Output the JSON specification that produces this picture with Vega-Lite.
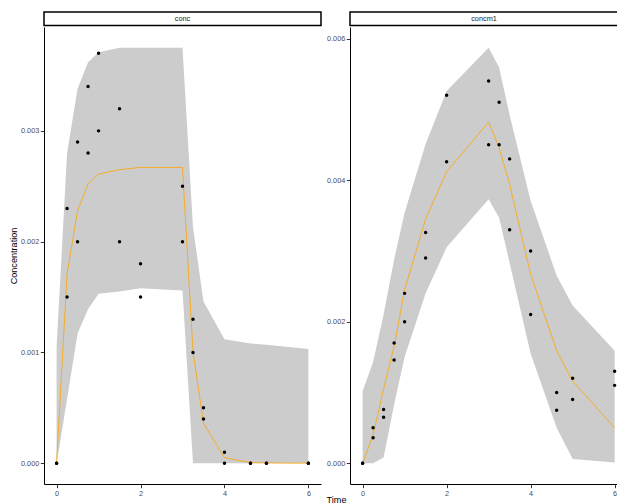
{
  "$schema": "https://vega.github.io/schema/vega-lite/v6.json",
  "padding": {"left": 9, "top": 11, "right": 0, "bottom": 0},
  "background": "white",
  "config": {
    "view": {"stroke": null},
    "axis": {
      "grid": false,
      "domainColor": "#000000",
      "domainWidth": 1,
      "tickColor": "#333333",
      "tickSize": 3.7,
      "tickWidth": 1,
      "labelColor": "#4d4d4d",
      "labelFont": "Liberation Sans",
      "labelFontSize": 7.3,
      "labelPadding": 1.5,
      "titleFont": "Liberation Sans",
      "titleFontSize": 9.1,
      "titleFontWeight": "normal",
      "titleColor": "#000000"
    }
  },
  "datasets": {
    "pred": [
      {"panel": "conc", "time": 0, "med": 0, "lo": 0, "hi": 0.00105},
      {"panel": "conc", "time": 0.25, "med": 0.00171, "lo": 0.00058, "hi": 0.0028},
      {"panel": "conc", "time": 0.5, "med": 0.00228, "lo": 0.00117, "hi": 0.00338},
      {"panel": "conc", "time": 0.75, "med": 0.00252, "lo": 0.00139, "hi": 0.00362},
      {"panel": "conc", "time": 1, "med": 0.00261, "lo": 0.00153, "hi": 0.00371},
      {"panel": "conc", "time": 1.5, "med": 0.00265, "lo": 0.00155, "hi": 0.00375},
      {"panel": "conc", "time": 2, "med": 0.00267, "lo": 0.00158, "hi": 0.00375},
      {"panel": "conc", "time": 3, "med": 0.00267, "lo": 0.00156, "hi": 0.00375},
      {"panel": "conc", "time": 3.25, "med": 0.00101, "lo": 0, "hi": 0.00213},
      {"panel": "conc", "time": 3.5, "med": 0.00036, "lo": 0, "hi": 0.00146},
      {"panel": "conc", "time": 4, "med": 0.00005, "lo": 0, "hi": 0.00112},
      {"panel": "conc", "time": 4.62, "med": 0.000006, "lo": 0, "hi": 0.00108},
      {"panel": "conc", "time": 5, "med": 0.000003, "lo": 0, "hi": 0.00107},
      {"panel": "conc", "time": 6, "med": 0, "lo": 0, "hi": 0.00103},
      {"panel": "concm1", "time": 0, "med": 0, "lo": 0, "hi": 0.00102},
      {"panel": "concm1", "time": 0.25, "med": 0.0004, "lo": 0, "hi": 0.00143},
      {"panel": "concm1", "time": 0.5, "med": 0.00105, "lo": 0.00008, "hi": 0.0021},
      {"panel": "concm1", "time": 0.75, "med": 0.00165, "lo": 0.00083, "hi": 0.00288},
      {"panel": "concm1", "time": 1, "med": 0.00245, "lo": 0.0015, "hi": 0.00354},
      {"panel": "concm1", "time": 1.5, "med": 0.00345, "lo": 0.0024, "hi": 0.00451},
      {"panel": "concm1", "time": 2, "med": 0.00412, "lo": 0.00305, "hi": 0.00526},
      {"panel": "concm1", "time": 3, "med": 0.00482, "lo": 0.00373, "hi": 0.00587},
      {"panel": "concm1", "time": 3.25, "med": 0.00446, "lo": 0.00347, "hi": 0.00559},
      {"panel": "concm1", "time": 3.5, "med": 0.00394, "lo": 0.00283, "hi": 0.00492},
      {"panel": "concm1", "time": 4, "med": 0.00267, "lo": 0.00155, "hi": 0.00371},
      {"panel": "concm1", "time": 4.62, "med": 0.00159, "lo": 0.0005, "hi": 0.00265},
      {"panel": "concm1", "time": 5, "med": 0.00116, "lo": 0.00006, "hi": 0.00223},
      {"panel": "concm1", "time": 6, "med": 0.0005, "lo": 0.00001, "hi": 0.00159}
    ],
    "obs": [
      {"panel": "conc", "time": 0, "value": 0},
      {"panel": "conc", "time": 0, "value": 0},
      {"panel": "conc", "time": 0.25, "value": 0.0023},
      {"panel": "conc", "time": 0.25, "value": 0.0015},
      {"panel": "conc", "time": 0.5, "value": 0.0029},
      {"panel": "conc", "time": 0.5, "value": 0.002},
      {"panel": "conc", "time": 0.75, "value": 0.0034},
      {"panel": "conc", "time": 0.75, "value": 0.0028},
      {"panel": "conc", "time": 1, "value": 0.0037},
      {"panel": "conc", "time": 1, "value": 0.003},
      {"panel": "conc", "time": 1.5, "value": 0.0032},
      {"panel": "conc", "time": 1.5, "value": 0.002},
      {"panel": "conc", "time": 2, "value": 0.0018},
      {"panel": "conc", "time": 2, "value": 0.0015},
      {"panel": "conc", "time": 3, "value": 0.0025},
      {"panel": "conc", "time": 3, "value": 0.002},
      {"panel": "conc", "time": 3.25, "value": 0.0013},
      {"panel": "conc", "time": 3.25, "value": 0.001},
      {"panel": "conc", "time": 3.5, "value": 0.0005},
      {"panel": "conc", "time": 3.5, "value": 0.0004},
      {"panel": "conc", "time": 4, "value": 0.0001},
      {"panel": "conc", "time": 4, "value": 0},
      {"panel": "conc", "time": 4.62, "value": 0},
      {"panel": "conc", "time": 4.62, "value": 0},
      {"panel": "conc", "time": 5, "value": 0},
      {"panel": "conc", "time": 5, "value": 0},
      {"panel": "conc", "time": 6, "value": 0},
      {"panel": "conc", "time": 6, "value": 0},
      {"panel": "concm1", "time": 0, "value": 0},
      {"panel": "concm1", "time": 0, "value": 0},
      {"panel": "concm1", "time": 0.25, "value": 0.0005},
      {"panel": "concm1", "time": 0.25, "value": 0.00036},
      {"panel": "concm1", "time": 0.5, "value": 0.00076},
      {"panel": "concm1", "time": 0.5, "value": 0.00065},
      {"panel": "concm1", "time": 0.75, "value": 0.0017},
      {"panel": "concm1", "time": 0.75, "value": 0.00146},
      {"panel": "concm1", "time": 1, "value": 0.0024},
      {"panel": "concm1", "time": 1, "value": 0.002},
      {"panel": "concm1", "time": 1.5, "value": 0.00326},
      {"panel": "concm1", "time": 1.5, "value": 0.0029},
      {"panel": "concm1", "time": 2, "value": 0.0052},
      {"panel": "concm1", "time": 2, "value": 0.00426},
      {"panel": "concm1", "time": 3, "value": 0.0054},
      {"panel": "concm1", "time": 3, "value": 0.0045},
      {"panel": "concm1", "time": 3.25, "value": 0.0051},
      {"panel": "concm1", "time": 3.25, "value": 0.0045},
      {"panel": "concm1", "time": 3.5, "value": 0.0043},
      {"panel": "concm1", "time": 3.5, "value": 0.0033},
      {"panel": "concm1", "time": 4, "value": 0.003},
      {"panel": "concm1", "time": 4, "value": 0.0021},
      {"panel": "concm1", "time": 4.62, "value": 0.001},
      {"panel": "concm1", "time": 4.62, "value": 0.00075},
      {"panel": "concm1", "time": 5, "value": 0.0012},
      {"panel": "concm1", "time": 5, "value": 0.0009},
      {"panel": "concm1", "time": 6, "value": 0.0013},
      {"panel": "concm1", "time": 6, "value": 0.0011}
    ],
    "strips": [
      {"panel": "conc"},
      {"panel": "concm1"}
    ]
  },
  "spacing": 4,
  "hconcat": [
    {
      "spacing": 0,
      "vconcat": [
        {
          "width": 277,
          "height": 13.5,
          "data": {"name": "strips"},
          "transform": [{"filter": "datum.panel === 'conc'"}],
          "view": {"stroke": "#000000", "strokeWidth": 1.5, "fill": "white"},
          "mark": {"type": "text", "font": "Liberation Sans", "fontSize": 7.3, "color": "#1a1a1a"},
          "encoding": {"text": {"field": "panel", "type": "nominal"}}
        },
        {
          "width": 277,
          "height": 457,
          "layer": [
            {
              "data": {"name": "pred"},
              "transform": [{"filter": "datum.panel === 'conc'"}],
              "mark": {"type": "area", "color": "#cccccc", "opacity": 1},
              "encoding": {
                "x": {"field": "time", "type": "quantitative",
                  "scale": {"domain": [-0.3, 6.3], "nice": false, "zero": false},
                  "axis": {"values": [0, 2, 4, 6], "title": null}},
                "y": {"field": "lo", "type": "quantitative",
                  "scale": {"domain": [-0.0001875, 0.0039375], "nice": false, "zero": false},
                  "axis": {"values": [0, 0.001, 0.002, 0.003], "format": ".3f", "title": "Concentration", "titlePadding": 2}},
                "y2": {"field": "hi"}
              }
            },
            {
              "data": {"name": "pred"},
              "transform": [{"filter": "datum.panel === 'conc'"}],
              "mark": {"type": "line", "color": "#FFA500", "strokeWidth": 0.8},
              "encoding": {
                "x": {"field": "time", "type": "quantitative"},
                "y": {"field": "med", "type": "quantitative"}
              }
            },
            {
              "data": {"name": "obs"},
              "transform": [{"filter": "datum.panel === 'conc'"}],
              "mark": {"type": "point", "filled": true, "color": "#000000", "opacity": 1, "size": 12},
              "encoding": {
                "x": {"field": "time", "type": "quantitative"},
                "y": {"field": "value", "type": "quantitative"}
              }
            }
          ]
        }
      ]
    },
    {
      "spacing": 0,
      "vconcat": [
        {
          "width": 268,
          "height": 13.5,
          "data": {"name": "strips"},
          "transform": [{"filter": "datum.panel === 'concm1'"}],
          "view": {"stroke": "#000000", "strokeWidth": 1.5, "fill": "white"},
          "mark": {"type": "text", "font": "Liberation Sans", "fontSize": 7.3, "color": "#1a1a1a"},
          "encoding": {"text": {"field": "panel", "type": "nominal"}}
        },
        {
          "width": 268,
          "height": 457,
          "layer": [
            {
              "data": {"name": "pred"},
              "transform": [{"filter": "datum.panel === 'concm1'"}],
              "mark": {"type": "area", "color": "#cccccc", "opacity": 1},
              "encoding": {
                "x": {"field": "time", "type": "quantitative",
                  "scale": {"domain": [-0.3, 6.08], "nice": false, "zero": false},
                  "axis": {"values": [0, 2, 4, 6], "title": "Time", "titleX": -14, "titleY": 20, "titleBaseline": "bottom"}},
                "y": {"field": "lo", "type": "quantitative",
                  "scale": {"domain": [-0.0002935, 0.0061635], "nice": false, "zero": false},
                  "axis": {"values": [0, 0.002, 0.004, 0.006], "format": ".3f", "title": null}},
                "y2": {"field": "hi"}
              }
            },
            {
              "data": {"name": "pred"},
              "transform": [{"filter": "datum.panel === 'concm1'"}],
              "mark": {"type": "line", "color": "#FFA500", "strokeWidth": 0.8},
              "encoding": {
                "x": {"field": "time", "type": "quantitative"},
                "y": {"field": "med", "type": "quantitative"}
              }
            },
            {
              "data": {"name": "obs"},
              "transform": [{"filter": "datum.panel === 'concm1'"}],
              "mark": {"type": "point", "filled": true, "color": "#000000", "opacity": 1, "size": 12},
              "encoding": {
                "x": {"field": "time", "type": "quantitative"},
                "y": {"field": "value", "type": "quantitative"}
              }
            }
          ]
        }
      ]
    }
  ]
}
